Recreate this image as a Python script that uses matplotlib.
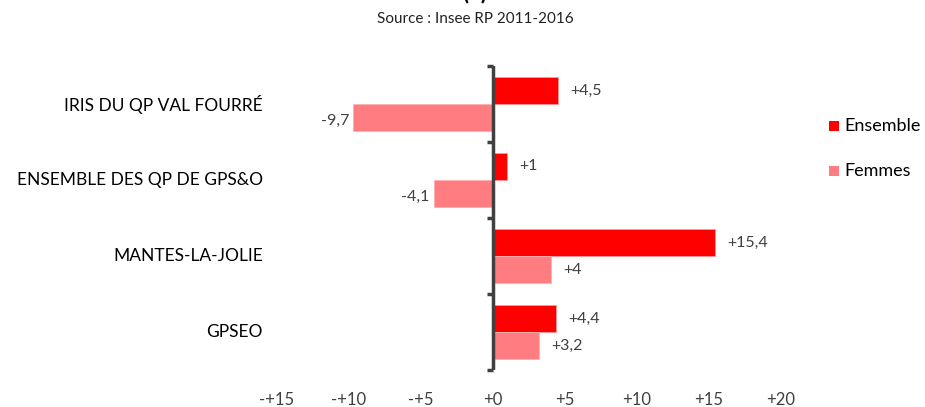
import matplotlib
matplotlib.use("Agg")
import matplotlib.pyplot as plt
import numpy as np

categories = ["IRIS DU QP VAL FOURRÉ", "ENSEMBLE DES QP DE GPS&O", "MANTES-LA-JOLIE", "GPSEO"]
ensemble = [4.5, 1.0, 15.4, 4.4]
femmes = [-9.7, -4.1, 4.0, 3.2]
ens_labels = ["+4,5", "+1", "+15,4", "+4,4"]
fem_labels = ["-9,7", "-4,1", "+4", "+3,2"]
xticks = [-15, -10, -5, 0, 5, 10, 15, 20]
xtick_labels = ["-+15", "-+10", "-+5", "+0", "+5", "+10", "+15", "+20"]
series_names = ["Ensemble", "Femmes"]
colors = ["#FF0000", "#FF7C80"]

plt.rcParams['font.family'] = ['Lato', 'DejaVu Sans']

fig = plt.figure(figsize=(9.25, 4.07), dpi=100)
ax = fig.add_axes([277/925, 1-370/407, (781-277)/925, (370-66)/407])

y = np.arange(len(categories))
h = 0.355
off = 0.178
ax.barh(y - off, ensemble, height=h, color=colors[0], edgecolor="#FF9999", linewidth=0.6, label=series_names[0])
ax.barh(y + off, femmes, height=h, color=colors[1], edgecolor="#FFB0B0", linewidth=0.6, label=series_names[1])

for i in range(len(categories)):
    for val, lab, yy in ((ensemble[i], ens_labels[i], y[i] - off), (femmes[i], fem_labels[i], y[i] + off)):
        if val >= 0:
            ax.text(val + 0.85, yy, lab, ha="left", va="center", fontsize=11.5, color="#404040")
        else:
            ax.text(val - 0.3, yy + 0.05, lab, ha="right", va="center", fontsize=11.5, color="#404040")

ax.set_xlim(-15, 20)
ax.set_ylim(3.5, -0.5)
ax.set_xticks(xticks)
ax.set_xticklabels(xtick_labels, fontsize=12, color="#404040")
ax.tick_params(axis="x", length=0, pad=16)

for s in ["top", "right", "bottom", "left"]:
    ax.spines[s].set_visible(False)
ax.axvline(0, color="#404040", linewidth=2.5, zorder=5)
for b in np.arange(-0.5, 3.6, 1.0):
    ax.plot([-0.45, 0], [b, b], color="#404040", linewidth=2.5, zorder=5, clip_on=False, solid_capstyle="butt")
ax.set_yticks([])

for i, c in enumerate(categories):
    fig.text(263/925, 1 - (104 + i*76)/407, c, ha="right", va="center", fontsize=12.5, color="#000000")

fig.text(475/925, 1 - 19/407, "Source : Insee RP 2011-2016", ha="center", va="center", fontsize=11, color="#222222")
fig.text(475/925, 1 + 7/407, "(1)", ha="center", va="center", fontsize=16, fontweight="bold", color="#000000")

for i, name in enumerate(series_names):
    yy = 1 - (126 + i*45)/407
    fig.patches.append(plt.Rectangle((829/925, yy - 5/407), 10/925, 10/407, transform=fig.transFigure,
                                     facecolor=colors[i], edgecolor="none"))
    fig.text(844/925, yy, name, ha="left", va="center", fontsize=13, color="#000000")

fig.savefig("out.png", dpi=100)
